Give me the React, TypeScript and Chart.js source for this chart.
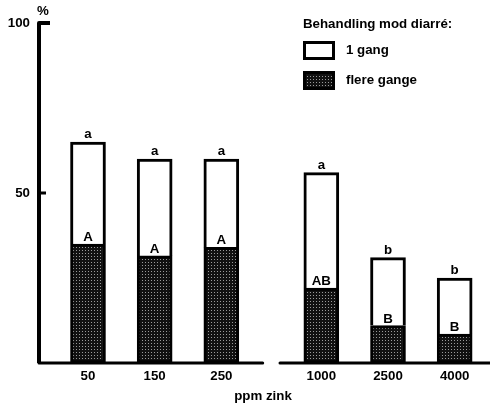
import React, { useEffect, useRef } from "react";
import { Chart, registerables } from "chart.js";

Chart.register(...registerables);

// ---- data ----
const categories = ["50", "150", "250", "1000", "2500", "4000"];
const categoryGroup = [0, 0, 0, 1, 1, 1];
const oneTime = [65, 60, 60, 56, 31, 25]; // top of "1 gang" bar (%)
const severalTimes = [35, 31.5, 34, 22, 11, 8.5]; // "flere gange" (%)
const upperLetters = ["a", "a", "a", "a", "b", "b"];
const lowerLetters = ["A", "A", "A", "AB", "B", "B"];
const yTicks = [50, 100];
const legendTitle = "Behandling mod diarré:";
const seriesLabels = ["1 gang", "flere gange"];
const xTitle = "ppm zink";
const yTitle = "%";

const FONT = "'Liberation Sans', Arial, Helvetica, sans-serif";
const FS = 13.3;

// slot along x: one unit per category, half a unit extra gap between groups
const slot = (i: number) => i + 0.5 * categoryGroup[i];

function makePattern(): CanvasPattern | string {
  const c = document.createElement("canvas");
  c.width = 3;
  c.height = 3;
  const g = c.getContext("2d");
  if (!g) return "#222";
  g.fillStyle = "#111";
  g.fillRect(0, 0, 3, 3);
  g.fillStyle = "#9a9a9a";
  g.fillRect(1, 1, 1, 1);
  const p = g.createPattern(c, "repeat");
  return p || "#222";
}

const axesPlugin = {
  id: "customAxes",
  afterDatasetsDraw(chart: any) {
    const { ctx, chartArea } = chart;
    const xs = chart.scales.x;
    const ys = chart.scales.y;
    const ax = chartArea.left + 1;
    const y100 = ys.getPixelForValue(100);
    const y50 = ys.getPixelForValue(50);
    const base = chartArea.bottom;
    const gapMid = (slot(2) + slot(3)) / 2;
    const gapL = xs.getPixelForValue(gapMid - 0.13);
    const gapR = xs.getPixelForValue(gapMid + 0.13);
    ctx.save();
    ctx.strokeStyle = "#000";
    ctx.lineJoin = "round";
    ctx.lineCap = "butt";
    // y axis with top hook
    ctx.lineWidth = 4;
    ctx.beginPath();
    ctx.moveTo(ax + 11, y100);
    ctx.lineTo(ax, y100);
    ctx.lineTo(ax, base);
    ctx.stroke();
    // 50 tick
    ctx.lineWidth = 3;
    ctx.beginPath();
    ctx.moveTo(ax, y50);
    ctx.lineTo(ax + 7, y50);
    ctx.stroke();
    // baseline split in two
    ctx.lineWidth = 3;
    ctx.lineCap = "round";
    ctx.beginPath();
    ctx.moveTo(ax, base);
    ctx.lineTo(gapL, base);
    ctx.stroke();
    ctx.beginPath();
    ctx.moveTo(gapR, base);
    ctx.lineTo(chartArea.right + 4, base);
    ctx.stroke();
    // % label
    ctx.fillStyle = "#000";
    ctx.font = `bold ${FS}px ${FONT}`;
    ctx.textAlign = "center";
    ctx.textBaseline = "middle";
    ctx.fillText(yTitle, ax + 4, y100 - 12);
    ctx.restore();
  },
};

const lettersPlugin = {
  id: "letters",
  afterDatasetsDraw(chart: any) {
    const { ctx } = chart;
    const meta = chart.getDatasetMeta(1);
    ctx.save();
    ctx.fillStyle = "#000";
    ctx.font = `bold ${FS}px ${FONT}`;
    ctx.textAlign = "center";
    ctx.textBaseline = "alphabetic";
    meta.data.forEach((el: any, i: number) => {
      const top = Math.min(el.y, el.base);
      const bottom = Math.max(el.y, el.base);
      ctx.fillText(upperLetters[i], el.x, top - 4);
      ctx.fillText(lowerLetters[i], el.x, bottom - 3);
    });
    ctx.restore();
  },
};

const legendPlugin = {
  id: "customLegend",
  afterDraw(chart: any) {
    const { ctx } = chart;
    const x0 = 303;
    ctx.save();
    ctx.fillStyle = "#000";
    ctx.font = `bold ${FS}px ${FONT}`;
    ctx.textAlign = "left";
    ctx.textBaseline = "middle";
    ctx.fillText(legendTitle, x0, 24);
    const ds = chart.data.datasets;
    const order = [1, 0];
    order.forEach((di, k) => {
      const y = 41 + k * 30;
      ctx.fillStyle = ds[di].backgroundColor;
      ctx.fillRect(x0, y, 32, 19);
      ctx.strokeStyle = "#000";
      ctx.lineWidth = 3;
      ctx.strokeRect(x0 + 1.5, y + 1.5, 29, 16);
      ctx.fillStyle = "#000";
      ctx.fillText(ds[di].label, x0 + 43, y + 9.5);
    });
    ctx.restore();
  },
};

export default function App() {
  const ref = useRef<HTMLCanvasElement | null>(null);
  useEffect(() => {
    if (!ref.current) return;
    const pattern = makePattern();
    const chart = new Chart(ref.current, {
      type: "bar",
      data: {
        datasets: [
          {
            label: seriesLabels[1],
            data: categories.map((_, i) => ({ x: slot(i), y: severalTimes[i] })) as any,
            backgroundColor: pattern as any,
            borderColor: "#000",
            borderWidth: 3,
            borderSkipped: false,
            barThickness: 35,
            grouped: false,
          } as any,
          {
            label: seriesLabels[0],
            data: categories.map((_, i) => ({ x: slot(i), y: [severalTimes[i], oneTime[i]] })) as any,
            backgroundColor: "#fff",
            borderColor: "#000",
            borderWidth: { top: 3, left: 3, right: 3, bottom: 0 },
            borderSkipped: false,
            barThickness: 35,
            grouped: false,
          } as any,
        ],
      },
      options: {
        animation: false,
        responsive: false,
        devicePixelRatio: 1,
        layout: { padding: { top: 23, right: 2, left: 0, bottom: 0 } },
        plugins: { legend: { display: false }, tooltip: { enabled: false } },
        scales: {
          x: {
            type: "linear",
            offset: false,
            min: -0.75,
            max: 6.0,
            grid: { display: false },
            border: { display: false },
            afterBuildTicks: (s: any) => {
              s.ticks = categories.map((_, i) => ({ value: slot(i) }));
            },
            afterFit: (s: any) => {
              s.height = 44;
            },
            ticks: {
              autoSkip: false,
              maxRotation: 0,
              padding: -3,
              color: "#000",
              font: { family: FONT, size: FS, weight: "bold" },
              callback: (_v: any, idx: number) => categories[idx],
            },
            title: {
              display: true,
              text: xTitle,
              color: "#000",
              font: { family: FONT, size: FS, weight: "bold" },
              padding: { top: 2, bottom: 3 },
            },
          } as any,
          y: {
            min: 0,
            max: 100,
            grid: { display: false },
            border: { display: false },
            afterBuildTicks: (s: any) => {
              s.ticks = yTicks.map((v) => ({ value: v }));
            },
            afterFit: (s: any) => {
              s.width = 38;
            },
            ticks: {
              padding: 0,
              color: "#000",
              font: { family: FONT, size: FS, weight: "bold" },
              callback: (v: any) => String(v),
            },
          } as any,
        },
      },
      plugins: [axesPlugin, lettersPlugin, legendPlugin],
    });
    return () => chart.destroy();
  }, []);
  return (
    <div style={{ position: "absolute", left: 0, top: 0, width: 490, height: 407, background: "#fff" }}>
      <canvas ref={ref} width={490} height={407} style={{ display: "block" }} />
    </div>
  );
}
